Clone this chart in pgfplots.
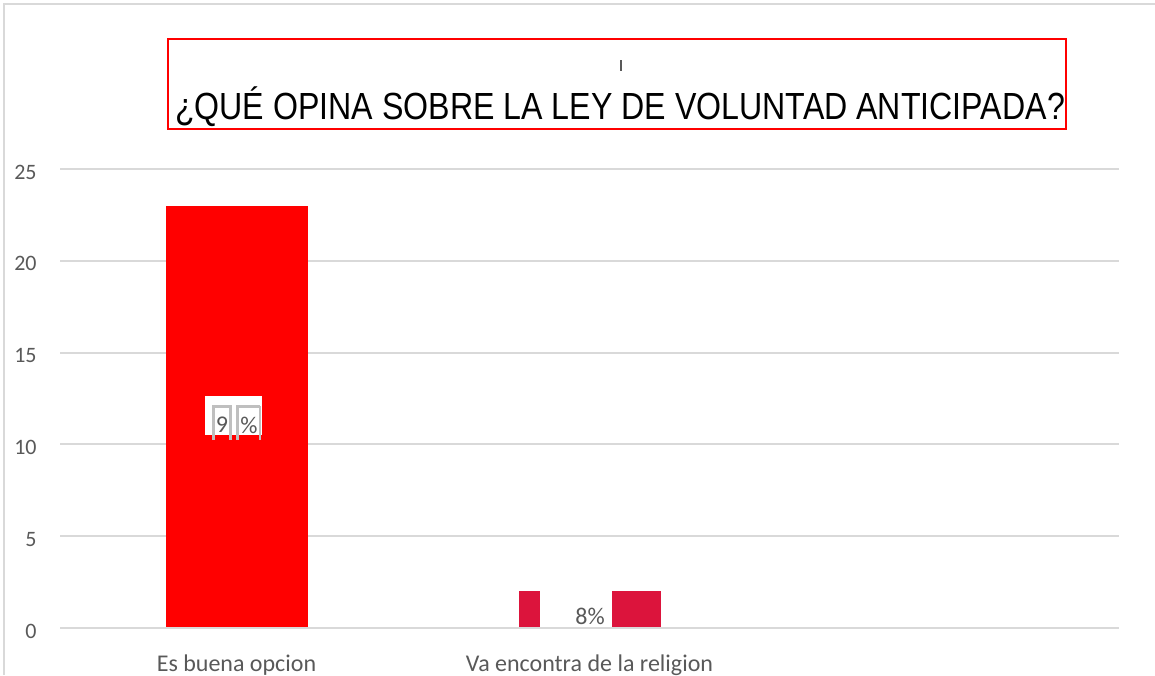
\documentclass[border=0pt]{standalone}
\usepackage{graphicx}
\usepackage{pgfplots}
\pgfplotsset{compat=1.18}
\usepackage{fontspec}
\setmainfont{Carlito}
\newfontfamily\arial{Liberation Sans}
\definecolor{gridgray}{HTML}{D9D9D9}
\definecolor{txtgray}{HTML}{595959}
\definecolor{barred}{HTML}{FF0000}
\definecolor{barcrimson}{HTML}{DC143C}
\definecolor{glyphgray}{HTML}{BFBFBF}

\begin{document}
\begin{tikzpicture}
\useasboundingbox (0,0) rectangle (577.5pt,337.5pt);
% outer chart frame
\draw[gridgray, line width=1pt] (2pt,0) -- (2pt,335.5pt) -- (577.5pt,335.5pt);

\begin{axis}[
    at={(30pt,23.5pt)}, anchor=south west,
    scale only axis, width=529.5pt, height=229.5pt,
    xmin=-0.5, xmax=2.5, ymin=0, ymax=25,
    ytick={0,5,...,25},
    xtick={0,1},
    xticklabels={Es buena opcion, Va encontra de la religion},
    axis line style={draw=none},
    major tick length=0pt,
    ymajorgrids,
    grid style={gridgray, line width=1pt},
    /pgf/number format/assume math mode=true,
    tick label style={text=txtgray},
    yticklabel style={font=\fontsize{11}{13}\selectfont, inner sep=0pt, xshift=-11.5pt, yshift=-1.5pt},
    xticklabel style={font=\fontsize{12}{14}\selectfont, inner sep=0pt, anchor=north, yshift=-13pt},
    clip=false
]
  \addplot[ybar, bar width=71pt, bar shift=0pt, fill=barred, draw=none] coordinates {(0,23)};
  \addplot[ybar, bar width=71pt, bar shift=0pt, fill=barcrimson, draw=none] coordinates {(1,2)};
\end{axis}

% data label, second bar
\fill[white] (270pt,23.5pt) rectangle (306pt,42.5pt);
\node[text=txtgray, font=\fontsize{12}{14}\selectfont] at (295pt,29.5pt) {8\%};
% zero line over the bars
\draw[gridgray, line width=1pt] (30pt,23.5pt) -- (559.5pt,23.5pt);

% title box
\draw[red, line width=1pt] (84pt,273pt) rectangle (533pt,318pt);
\draw[txtgray, line width=0.8pt] (310.5pt,302pt) -- (310.5pt,307.5pt);
\node[anchor=base, inner sep=0pt, font=\arial\fontsize{18.9}{22}\selectfont] at (310pt,277.5pt)
  {\scalebox{0.85}[1]{¿QUÉ OPINA SOBRE LA LEY DE VOLUNTAD ANTICIPADA?}};

% data label, first bar
\fill[white] (102.5pt,120pt) rectangle (131pt,139.5pt);
\draw[glyphgray, line width=1.5pt] (106.75pt,117.5pt) |- (115.25pt,134.5pt) -- (115.25pt,117.5pt);
\draw[glyphgray, line width=1.5pt] (118.75pt,117.5pt) |- (130pt,134.5pt);
\draw[glyphgray, line width=0.6pt] (130pt,134.5pt) -- (130pt,117.5pt);
\node[text=txtgray, font=\fontsize{12}{14}\selectfont] at (111pt,125pt) {9};
\node[text=txtgray, font=\fontsize{12}{14}\selectfont] at (124.5pt,125pt) {\%};
\end{tikzpicture}
\end{document}
